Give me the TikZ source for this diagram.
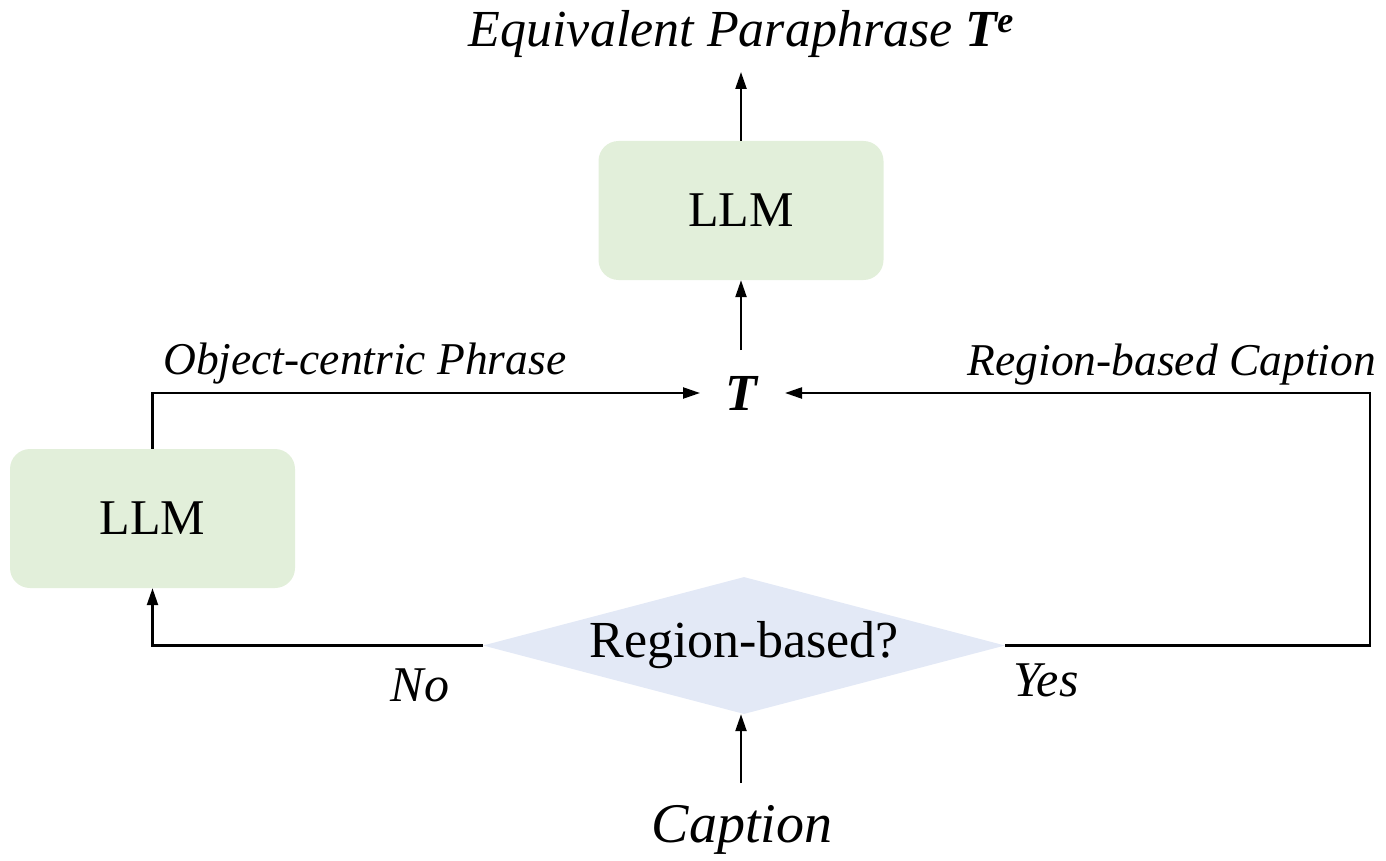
\documentclass[tikz,border=0pt]{standalone}
\usepackage{fontspec}
\setmainfont{Liberation Serif}
\usetikzlibrary{arrows.meta,shapes.geometric}
\definecolor{boxgreen}{HTML}{E2EFDA}
\definecolor{diablue}{HTML}{E3E9F6}
\begin{document}
\begin{tikzpicture}[x=1pt,y=-1pt,
  llmbox/.style={draw=none,fill=boxgreen,rounded corners=20pt,minimum width=285pt,minimum height=139pt,inner sep=0pt,font=\fontsize{50}{56}\selectfont},
  decision/.style={diamond,draw=none,fill=diablue,minimum width=522pt,minimum height=137pt,inner sep=0pt,aspect=3.8,font=\fontsize{52}{58}\selectfont},
  lbl/.style={inner sep=0pt,font=\fontsize{45.5}{50}\selectfont\itshape},
  conn/.style={line width=2.3pt,-{Triangle[length=17pt,width=11pt]}}
]
\useasboundingbox (0,0) rectangle (1386,861);
\node[llmbox] (llm1) at (741,210.5) {LLM};
\node[llmbox] (llm2) at (152.5,518.5) {LLM};
\node[decision] (dec) at (744,645.5) {Region-based?};
\node[inner sep=0pt,anchor=base,font=\fontsize{52}{58}\selectfont\itshape] (out) at (741,47) {Equivalent Paraphrase \textbf{T\raisebox{0.28em}{\fontsize{36}{40}\selectfont e}}};
\node[inner sep=0pt,font=\fontsize{52}{58}\selectfont\bfseries\itshape] (t) at (741,393) {T};
\node[inner sep=0pt,font=\fontsize{56}{62}\selectfont\itshape] (cap) at (742,830) {Caption};
\node[lbl,anchor=base west] (lobj) at (163,374) {Object-centric Phrase};
\node[lbl,anchor=base east] (lreg) at (1376,375) {Region-based Caption};
\node[lbl,font=\fontsize{50}{56}\selectfont\itshape] (lno) at (420,685) {No};
\node[lbl,font=\fontsize{50}{56}\selectfont\itshape] (lyes) at (1046,680) {Yes};
\coordinate (tw) at (700,393);
\coordinate (te) at (785,393);
\coordinate (cr) at (1370,393);
\coordinate (otop) at (741,72);
\coordinate (tbot) at (741,350);
\coordinate (cbot) at (741,783);
\draw[conn] (llm1.north) -- (otop);
\draw[conn] (tbot) -- (llm1.south);
\draw[conn] (llm2.north) |- (tw);
\draw[conn] (dec.east) -| (cr) -- (te);
\draw[conn] (dec.west) -| (llm2.south);
\draw[conn] (cbot) -- (cbot |- dec.south);
\end{tikzpicture}
\end{document}
